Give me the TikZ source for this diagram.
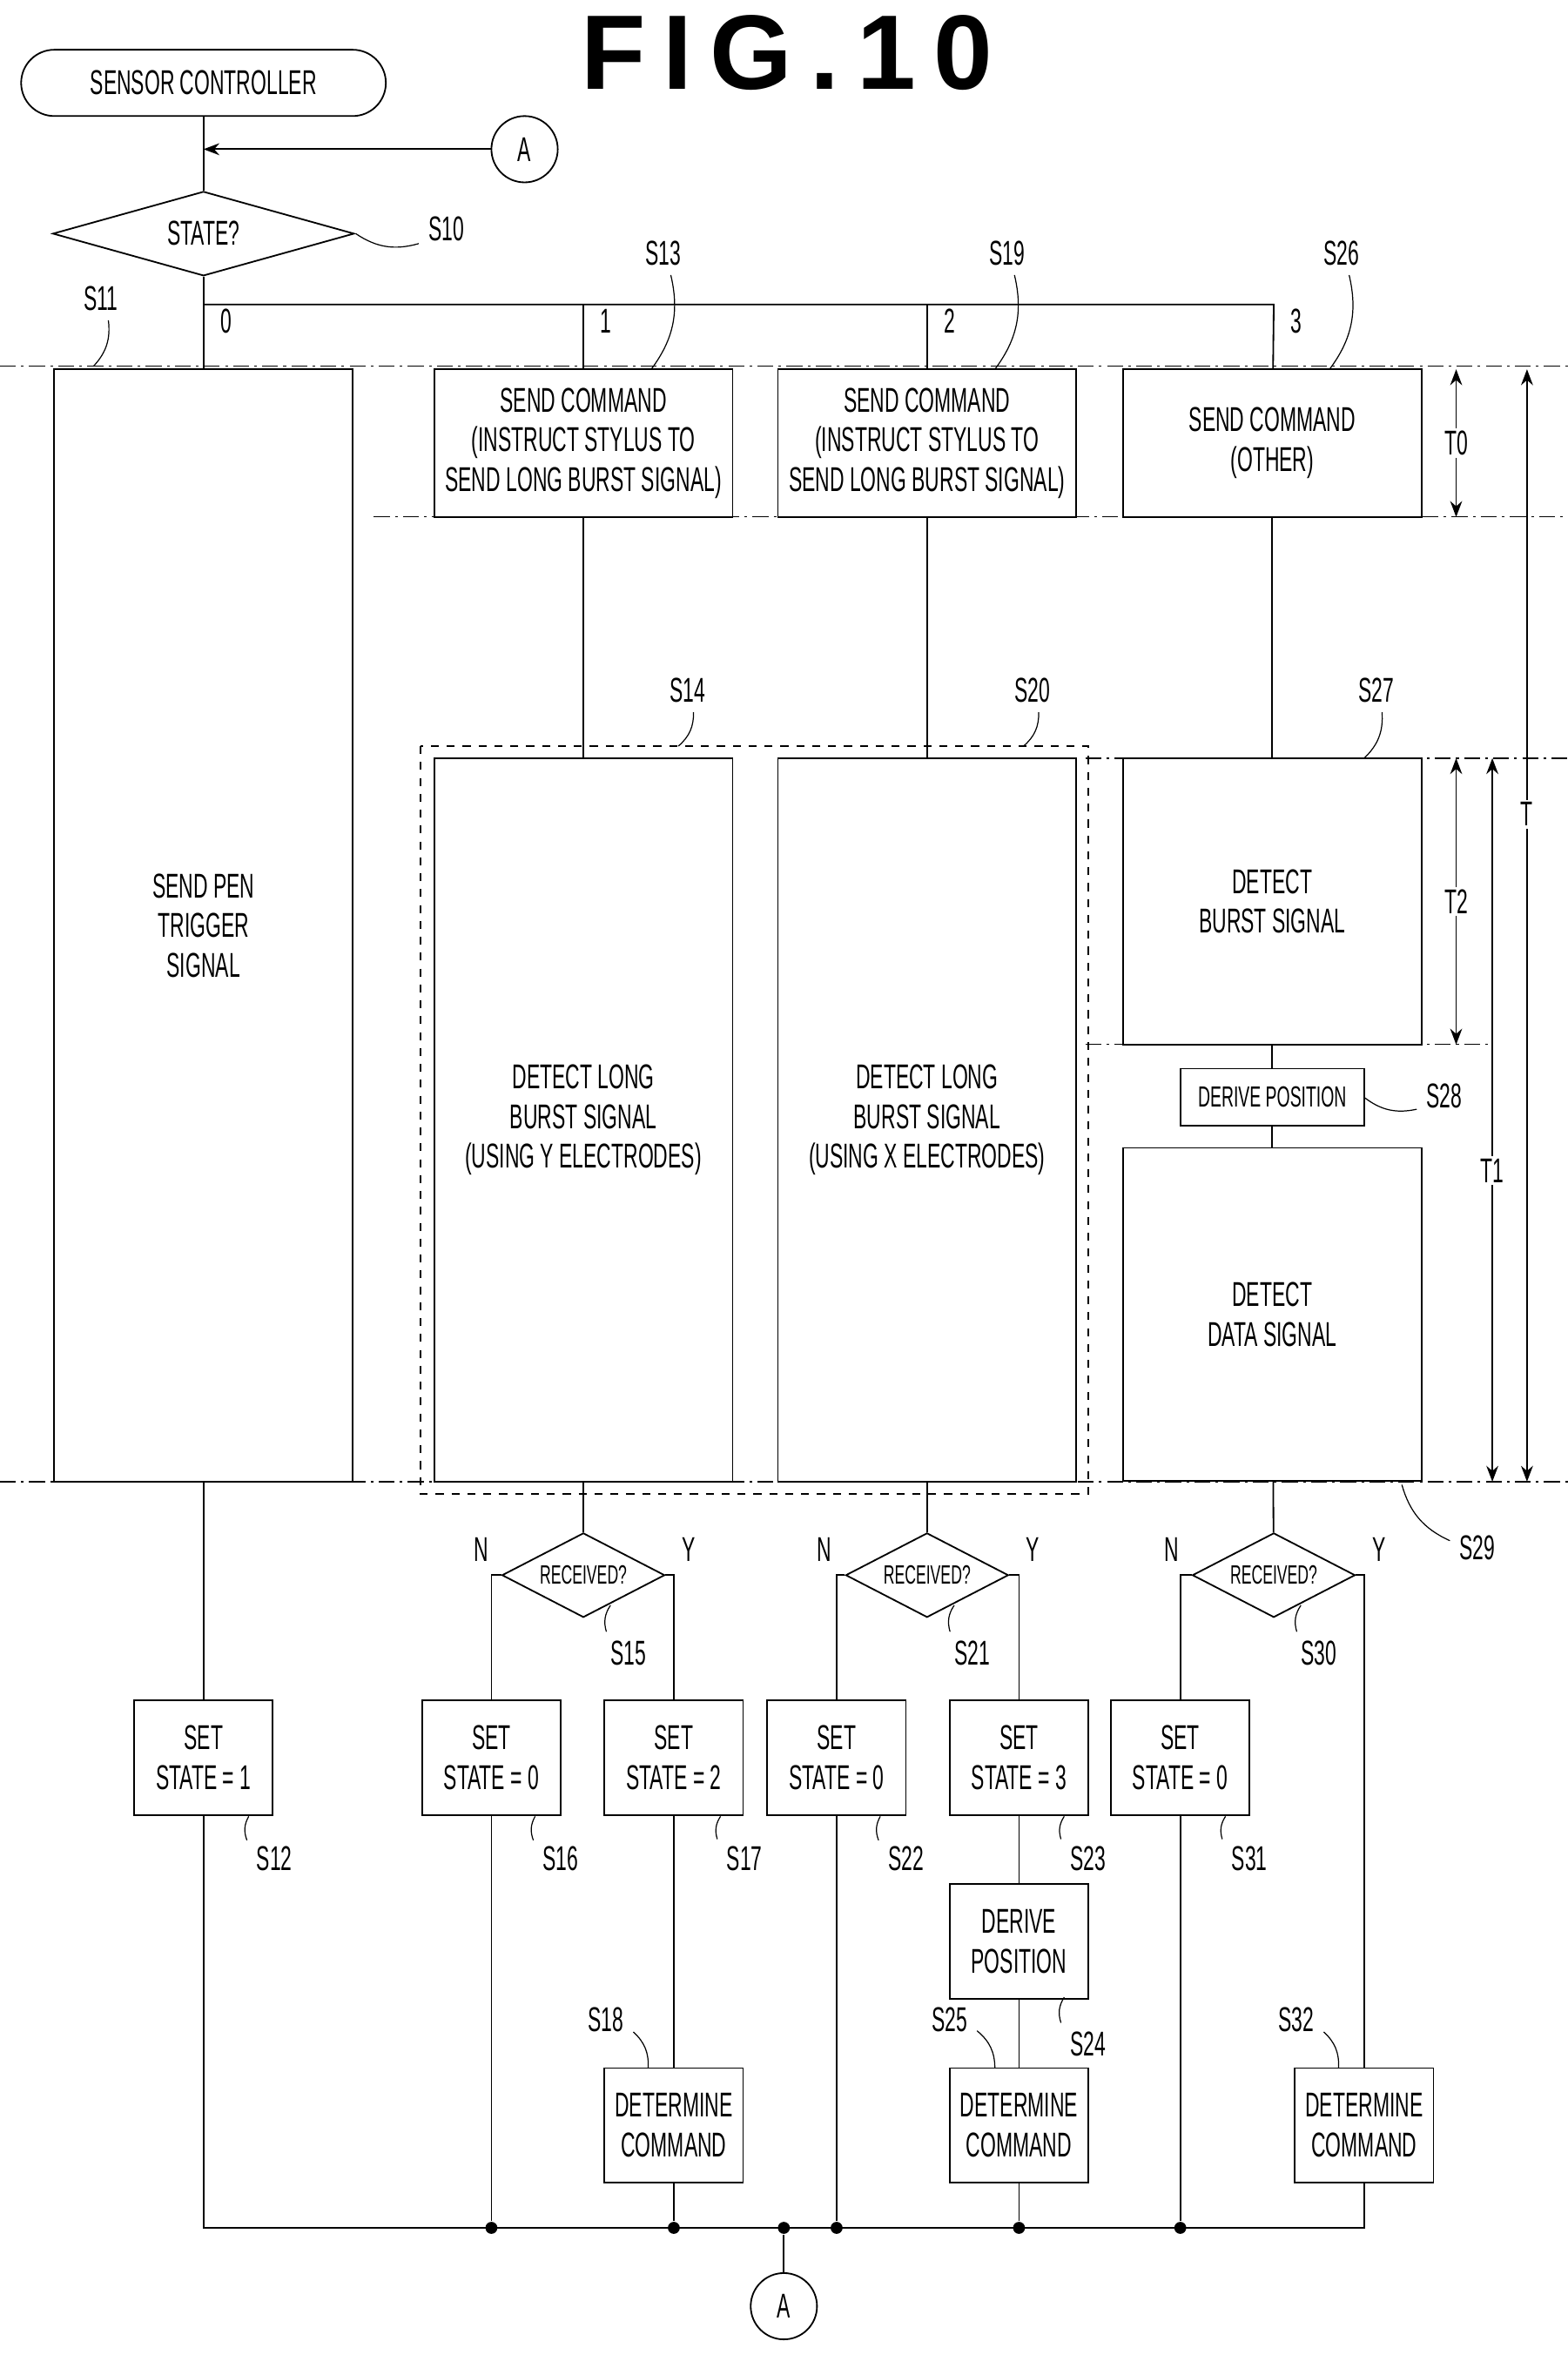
\documentclass[tikz,border=0pt]{standalone}
\usepackage{fontspec}
\setmainfont[FakeStretch=0.58]{Liberation Sans}
\newfontfamily\titlefont{Liberation Sans}
\usetikzlibrary{arrows.meta,shapes.geometric,positioning,calc}

\begin{document}
\begin{tikzpicture}[x=0.02cm,y=-0.02cm,semithick,>={Stealth[length=6pt]},
  font=\fontsize{13}{15}\selectfont,
  box/.style={draw,rectangle,align=center,inner sep=1pt,minimum width=3.96cm},
  small box/.style={draw,rectangle,align=center,inner sep=1pt,minimum width=1.84cm,minimum height=1.52cm},
  dec/.style={draw,diamond,aspect=3.6,inner sep=0pt,minimum width=2.16cm,minimum height=1.12cm,font=\fontsize{10}{11}\selectfont},
  lab/.style={font=\fontsize{13}{15}\selectfont},
  dot/.style={circle,fill,inner sep=1.6pt},
  guide/.style={thin,dash pattern=on 6pt off 2pt on 1pt off 2pt}]
  \useasboundingbox (0,0) rectangle (1040,1571);

  % title and start
  \node[font=\titlefont\fontsize{40}{40}\selectfont\bfseries] (title) at (522,35) {F\,I\,G\,.\,1\,0};
  \node[draw,rounded corners=0.44cm,minimum width=4.84cm,minimum height=0.88cm] (start) at (135,55) {SENSOR CONTROLLER};
  \node[draw,circle,minimum size=0.88cm,inner sep=0pt] (ain) at (348,99) {A};
  \node[dec,minimum width=4cm,font=\fontsize{13}{15}\selectfont] (state) at (135,155) {STATE?};
  \coordinate (join) at (135,99);
  \draw (start) -- (state);
  \draw[->] (ain) -- (join);

  % guides
  \draw[guide] (0,243) -- (1040,243);
  \draw[guide] (248,343) -- (1040,343);
  \draw[guide] (720,503) -- (1040,503);
  \draw[guide] (720,693) -- (990,693);
  \draw[guide] (0,983) -- (1040,983);

  % process boxes
  \node[box,minimum height=14.76cm] (s11) at (135,614) {SEND PEN\\TRIGGER\\SIGNAL};
  \node[box,minimum height=1.96cm] (s13) at (387,294) {SEND COMMAND\\(INSTRUCT STYLUS TO\\SEND LONG BURST SIGNAL)};
  \node[box,minimum height=1.96cm] (s19) at (615,294) {SEND COMMAND\\(INSTRUCT STYLUS TO\\SEND LONG BURST SIGNAL)};
  \node[box,minimum height=1.96cm] (s26) at (844,294) {SEND COMMAND\\(OTHER)};
  \node[box,minimum height=9.6cm] (s14) at (387,743) {DETECT LONG\\BURST SIGNAL\\(USING Y ELECTRODES)};
  \node[box,minimum height=9.6cm] (s20) at (615,743) {DETECT LONG\\BURST SIGNAL\\(USING X ELECTRODES)};
  \node[box,minimum height=3.8cm] (s27) at (844,598) {DETECT\\BURST SIGNAL};
  \node[draw,minimum width=2.44cm,minimum height=0.76cm,inner sep=1pt,font=\fontsize{11}{12}\selectfont] (s28) at (844,728) {DERIVE POSITION};
  \node[box,minimum height=4.42cm] (s29) at (844,872) {DETECT\\DATA SIGNAL};
  \draw[dashed] (279,495) rectangle (722,991);

  % branch
  \coordinate (b0) at (135,202);
  \coordinate (b3) at (845,202);
  \draw (state) -- (s11);
  \draw (b0) -- (b3) -- (s26);
  \draw (387,202) -- (s13);
  \draw (615,202) -- (s19);
  \draw (s13) -- (s14);
  \draw (s19) -- (s20);
  \draw (s26) -- (s27) -- (s28) -- (s29);
  \node[lab] at (150,213) {0};
  \node[lab] at (402,213) {1};
  \node[lab] at (630,213) {2};
  \node[lab] at (860,213) {3};

  % time marks
  \draw[<->] (966,245) -- node[fill=white,inner sep=1pt] {T0} (966,343);
  \draw[<->] (966,503) -- node[fill=white,inner sep=1pt] {T2} (966,693);
  \draw[<->] (990,503) -- node[pos=0.57,fill=white,inner sep=1pt] {T1} (990,983);
  \draw[<->] (1013,245) -- node[pos=0.4,fill=white,inner sep=1pt] {T} (1013,983);

  % decisions and results
  \node[dec] (s15) at (387,1045) {RECEIVED?};
  \node[dec] (s21) at (615,1045) {RECEIVED?};
  \node[dec] (s30) at (845,1045) {RECEIVED?};
  \node[small box] (s12) at (135,1166) {SET\\STATE = 1};
  \node[small box] (s16) at (326,1166) {SET\\STATE = 0};
  \node[small box] (s17) at (447,1166) {SET\\STATE = 2};
  \node[small box] (s22) at (555,1166) {SET\\STATE = 0};
  \node[small box] (s23) at (676,1166) {SET\\STATE = 3};
  \node[small box] (s31) at (783,1166) {SET\\STATE = 0};
  \node[small box] (s24) at (676,1288) {DERIVE\\POSITION};
  \node[small box] (s18) at (447,1410) {DETERMINE\\COMMAND};
  \node[small box] (s25) at (676,1410) {DETERMINE\\COMMAND};
  \node[small box] (s32) at (905,1410) {DETERMINE\\COMMAND};
  \draw (s14) -- (s15);
  \draw (s20) -- (s21);
  \draw (s29) -- (s30);
  \draw (s15.west) -| (s16);
  \draw (s15.east) -| (s17);
  \draw (s21.west) -| (s22);
  \draw (s21.east) -| (s23);
  \draw (s30.west) -| (s31);
  \draw (s30.east) -| (s32);
  \draw (s17) -- (s18);
  \draw (s23) -- (s24) -- (s25);
  \draw (s11) -- (s12);
  \foreach \n/\x in {15/387,21/615,30/845}{
    \node[lab] at (\x-68,1028) {N};
    \node[lab] at (\x+70,1028) {Y};
  }

  % merge
  \coordinate (m0) at (135,1478);
  \coordinate (m1) at (905,1478);
  \node[dot] (d1) at (326,1478) {};
  \node[dot] (d2) at (447,1478) {};
  \node[dot] (d3) at (520,1478) {};
  \node[dot] (d4) at (555,1478) {};
  \node[dot] (d5) at (676,1478) {};
  \node[dot] (d6) at (783,1478) {};
  \node[draw,circle,minimum size=0.88cm,inner sep=0pt] (aout) at (520,1530) {A};
  \draw (s12) -- (m0) -- (m1) -- (s32);
  \draw (s16) -- (d1);
  \draw (s18) -- (d2);
  \draw (s22) -- (d4);
  \draw (s25) -- (d5);
  \draw (s31) -- (d6);
  \draw (d3) -- (aout);

  % step labels with leaders
  \foreach \t/\x/\y/\tx/\ty in {S10/296/152/236/155,S11/67/198/62/243,S13/440/168/432/245,
      S19/668/168/660/245,S26/890/168/882/245,S14/456/458/450/495,S20/685/458/679/495,
      S27/913/458/905/503,S28/958/727/905/728,S29/980/1027/930/985,
      S15/417/1097/405/1065,S21/645/1097/633/1065,S30/875/1097/863/1065,
      S12/182/1233/165/1205,S16/372/1233/355/1205,S17/494/1233/478/1205,
      S22/601/1233/584/1205,S23/722/1233/706/1205,S31/829/1233/813/1205,
      S18/402/1340/430/1372,S25/630/1340/660/1372,S24/722/1356/706/1325,
      S32/860/1340/888/1372}{
    \node[lab] (l\t) at (\x,\y) {\t};
    \draw[thin] (l\t) to[bend left=25] (\tx,\ty);
  }
\end{tikzpicture}
\end{document}
